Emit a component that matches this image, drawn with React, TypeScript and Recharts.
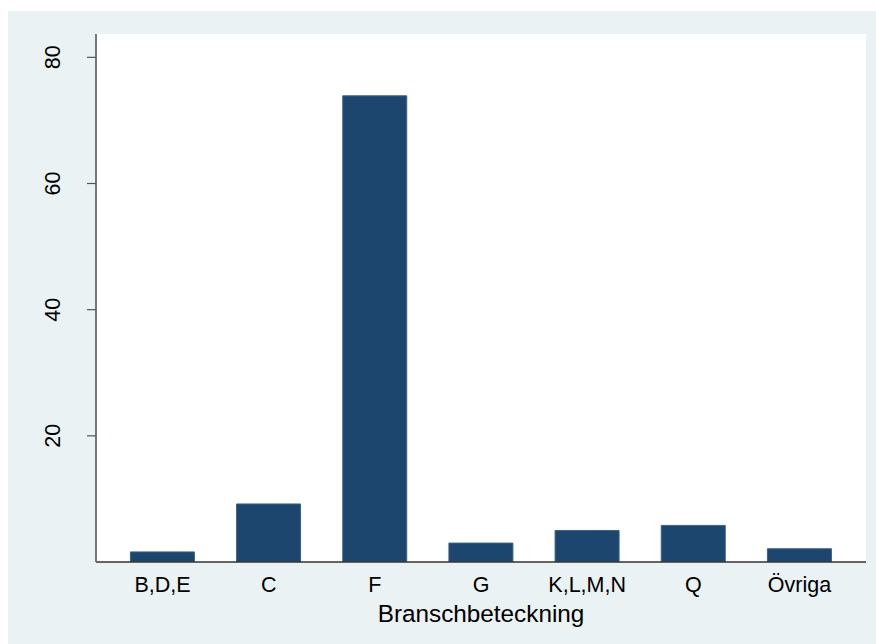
import { BarChart, Bar, XAxis, YAxis, CartesianGrid } from "recharts";

const categories = ["B,D,E", "C", "F", "G", "K,L,M,N", "Q", "Övriga"];
const values = [1.6, 9.2, 73.9, 3.0, 5.0, 5.8, 2.1];
const yTicks = [20, 40, 60, 80];

const data = categories.map((name, i) => ({ name, value: values[i] }));

const FONT = "'Liberation Sans', Arial, Helvetica, sans-serif";

function YTick(props: any) {
  const { x, y, payload } = props;
  const tx = x - 27;
  return (
    <text
      x={tx}
      y={y}
      transform={`rotate(-90, ${tx}, ${y})`}
      textAnchor="middle"
      fontSize={21.5}
      fontFamily={FONT}
      fill="#000"
    >
      {payload.value}
    </text>
  );
}

function XTick(props: any) {
  const { x, y, payload } = props;
  return (
    <text
      x={x}
      y={y + 29.7}
      textAnchor="middle"
      fontSize={21.5}
      fontFamily={FONT}
      fill="#000"
    >
      {payload.value}
    </text>
  );
}

export default function App() {
  return (
    <div style={{ position: "fixed", inset: 0, overflow: "hidden", background: "#fff" }}>
      <div
        style={{
          position: "absolute",
          left: 8,
          top: 11,
          width: 868,
          height: 633,
          background: "#eaf2f3",
        }}
      >
        <BarChart
          width={868}
          height={633}
          data={data}
          margin={{ top: 23, right: 10, left: 0, bottom: 0 }}
        >
          <rect x={88} y={23} width={770} height={528} fill="#fff" />
          <CartesianGrid
            horizontal={true}
            vertical={false}
            stroke="#eaf2f3"
            strokeWidth={1.5}
          />
          <XAxis
            dataKey="name"
            height={82}
            padding={{ left: 13.4, right: 13.4 }}
            tickLine={false}
            tickSize={0}
            tickMargin={0}
            tick={<XTick />}
            axisLine={{ stroke: "#333", strokeWidth: 1.5 }}
            label={{
              value: "Branschbeteckning",
              position: "insideBottom",
              offset: 22,
              fontSize: 24.3,
              fontFamily: FONT,
              fill: "#000",
            }}
          />
          <YAxis
            width={88}
            domain={[0, 83.7]}
            ticks={yTicks}
            tickSize={9}
            tickMargin={0}
            tickLine={{ stroke: "#555", strokeWidth: 1.2 }}
            tick={<YTick />}
            axisLine={{ stroke: "#777", strokeWidth: 2 }}
            allowDataOverflow
          />
          <Bar
            dataKey="value"
            barSize={64}
            fill="#1c466e"
            stroke="#3d6186"
            strokeWidth={1}
            isAnimationActive={false}
          />
        </BarChart>
      </div>
    </div>
  );
}
